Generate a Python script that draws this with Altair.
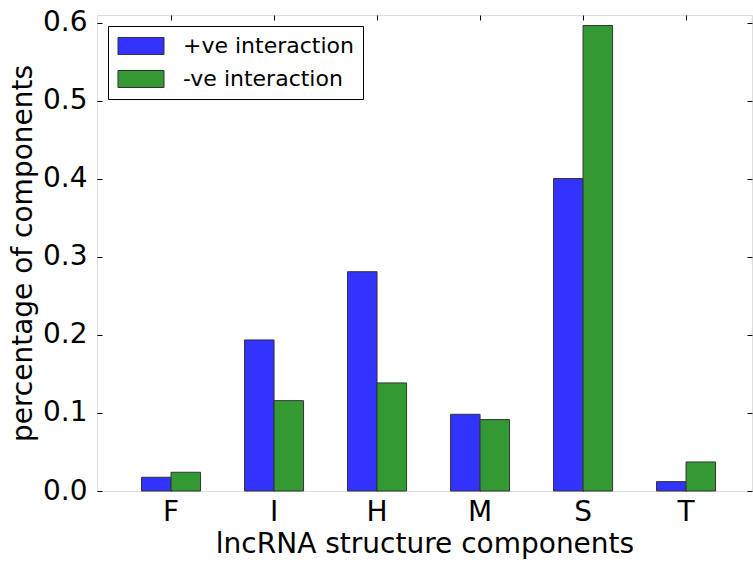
import altair as alt
import pandas as pd

# Fraction of each lncRNA structure component, per interaction type
components = ["F", "I", "H", "M", "S", "T"]
series = ["+ve interaction", "-ve interaction"]
positive = [0.0176, 0.1936, 0.281, 0.0983, 0.4004, 0.012]
negative = [0.024, 0.1158, 0.1385, 0.0915, 0.5965, 0.0372]
y_ticks = [0.0, 0.1, 0.2, 0.3, 0.4, 0.5, 0.6]

colors = ["#3333ff", "#339933"]
FONT = "DejaVu Sans"

rows = []
for name, vals in zip(series, [positive, negative]):
    for comp, v in zip(components, vals):
        rows.append({"component": comp, "interaction": name, "value": v})
df = pd.DataFrame(rows)

W, H = 655, 476
TICK = 5

x_scale = alt.Scale(domain=components, paddingInner=0.427, paddingOuter=0.393, align=0.55)
y_scale = alt.Scale(domain=[0, 0.61], nice=False, zero=True)
off_scale = alt.Scale(domain=series, paddingInner=0, paddingOuter=0)

bars = alt.Chart(df).mark_bar(stroke="#333333", strokeWidth=1, opacity=1).encode(
    x=alt.X("component:N", scale=x_scale, sort=components,
            axis=alt.Axis(title="lncRNA structure components", labelAngle=0,
                          orient="bottom", offset=-TICK, tickSize=TICK,
                          labelPadding=TICK + 2, domain=False,
                          labelFontSize=28, titleFontSize=28,
                          titlePadding=4, tickColor="#000000",
                          labelColor="#000000", titleColor="#000000",
                          titleFontWeight="normal")),
    xOffset=alt.XOffset("interaction:N", scale=off_scale, sort=series),
    y=alt.Y("value:Q", scale=y_scale,
            axis=alt.Axis(title="percentage of components", values=y_ticks,
                          format=".1f", orient="left", offset=-TICK,
                          tickSize=TICK, labelPadding=TICK + 5, domain=False,
                          grid=False, labelFontSize=28, titleFontSize=28,
                          titlePadding=5, tickColor="#000000",
                          labelColor="#000000", titleColor="#000000",
                          titleFontWeight="normal")),
    color=alt.Color("interaction:N", scale=alt.Scale(domain=series, range=colors),
                    sort=series,
                    legend=alt.Legend(title=None, orient="none", legendX=11, legendY=11,
                                      symbolType="M-2.706,-1H2.706V1H-2.706Z",
                                      symbolSize=289, symbolOffset=13,
                                      symbolStrokeColor="#333333",
                                      symbolStrokeWidth=1, symbolOpacity=1,
                                      labelFontSize=22, labelOffset=31,
                                      labelLimit=400,
                                      labelColor="#000000", rowPadding=11,
                                      padding=9, strokeColor="#000000",
                                      fillColor="#ffffff", cornerRadius=0)),
)

# Same scales mirrored on the top and right edges, ticks only
mirror = alt.Chart(df).mark_bar(opacity=0).encode(
    x=alt.X("component:N", scale=x_scale, sort=components,
            axis=alt.Axis(title=None, orient="top", offset=-TICK, tickSize=TICK,
                          labels=False, domain=False, tickColor="#000000")),
    xOffset=alt.XOffset("interaction:N", scale=off_scale, sort=series),
    y=alt.Y("value:Q", scale=y_scale,
            axis=alt.Axis(title=None, orient="right", values=y_ticks, offset=-TICK,
                          tickSize=TICK, labels=False, domain=False, grid=False,
                          tickColor="#000000")),
)

chart = alt.layer(bars, mirror).resolve_axis(x="independent", y="independent").properties(
    width=W, height=H,
    autosize=alt.AutoSizeParams(type="none"),
    padding={"left": 97, "top": 15, "right": 1, "bottom": 72},
    background="#ffffff",
).configure_view(
    stroke="#000000", strokeWidth=1
).configure(font=FONT)

chart.save("out.html", embed_options={"renderer": "svg", "actions": False})
